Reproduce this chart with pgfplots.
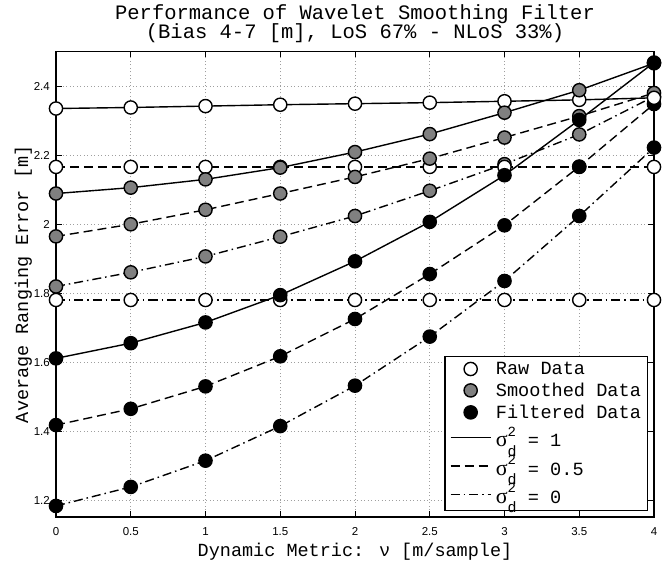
\documentclass[border=0pt]{standalone}
\usepackage{fontspec}
\setmainfont{Liberation Mono}
\setsansfont{Liberation Sans}
\setmonofont{Liberation Mono}
\newfontfamily\greekf{Liberation Serif}
\usepackage{pgfplots}
\usepackage{pgfplotstable}
\pgfplotsset{compat=1.18}

% r = raw, s = smoothed, f = filtered; 0 / h / 1 = sigma_d^2 of 0 / 0.5 / 1
\pgfplotstableread{
x    r0    s0    f0    rh    sh    fh    r1    s1    f1
0    1.781 1.820 1.185 2.166 1.965 1.419 2.335 2.089 1.612
0.5  1.781 1.861 1.240 2.166 2.000 1.466 2.338 2.106 1.656
1    1.781 1.907 1.316 2.166 2.042 1.531 2.342 2.130 1.716
1.5  1.781 1.964 1.416 2.166 2.089 1.618 2.346 2.164 1.795
2    1.781 2.024 1.533 2.166 2.137 1.726 2.349 2.209 1.893
2.5  1.781 2.097 1.675 2.166 2.190 1.856 2.352 2.261 2.007
3    1.781 2.174 1.836 2.166 2.251 1.997 2.356 2.323 2.142
3.5  1.781 2.260 2.024 2.166 2.313 2.167 2.360 2.388 2.302
4    1.781 2.370 2.222 2.166 2.380 2.348 2.366 2.466 2.468
}\perf

\pgfplotsset{
  ln1/.style={black, line width=1.4bp, solid},
  lnh/.style={black, line width=1.4bp, dash pattern=on 9bp off 5bp},
  ln0/.style={black, line width=1.4bp, dash pattern=on 9bp off 4bp on 1.5bp off 4bp},
  rawm/.style={mark=*, mark size=6.6bp, mark options={solid, fill=white, draw=black}},
  smom/.style={mark=*, mark size=6.6bp, mark options={solid, fill=gray, draw=black}},
  film/.style={mark=*, mark size=6.6bp, mark options={solid, fill=black, draw=black}},
}
% sigma_d^2 as in the reference legend
\newcommand{\sd}{{\greekf\fontsize{22bp}{22bp}\selectfont σ}%
  \rlap{\raisebox{10.5bp}{\fontsize{14bp}{14bp}\selectfont 2}}%
  \raisebox{-9.5bp}{\fontsize{15bp}{15bp}\selectfont d}}

\begin{document}
\begin{tikzpicture}
\begin{axis}[
    scale only axis,
    width=598bp, height=465.5bp,
    xmin=0, xmax=4,
    ymin=1.153, ymax=2.5,
    xtick={0,0.5,1,1.5,2,2.5,3,3.5,4},
    ytick={1.2,1.4,1.6,1.8,2,2.2,2.4},
    tick pos=both,
    tick align=inside,
    major tick length=6bp,
    tick style={black, line width=0.8bp},
    axis line style={black, line width=1.1bp},
    grid=major,
    grid style={gray!75, line width=0.8bp, dash pattern=on 1bp off 2.5bp},
    /pgf/number format/assume math mode=true,
    ticklabel style={font=\sffamily\fontsize{11.5bp}{13bp}\selectfont},
    xticklabel style={anchor=base, yshift=-18bp, inner sep=0pt},
    yticklabel style={anchor=east, xshift=-6bp, inner sep=0pt},
    xlabel={Dynamic Metric: ν [m/sample]},
    ylabel={Average Ranging Error [m]},
    label style={font=\fontsize{18.5bp}{22bp}\selectfont},
    xlabel style={at={(axis description cs:0.5,-0.0859)}, anchor=base},
    ylabel style={at={(axis description cs:-0.0468,0.5)}, anchor=base, rotate=0},
    clip=false,
    legend cell align=left,
    legend image code/.code={%
      \draw[mark repeat=2, mark phase=2, #1] plot coordinates {(0bp,0bp) (20bp,0bp) (40bp,0bp)};},
    legend style={
      at={(axis description cs:0.99,0.0129)}, anchor=south east,
      draw=black, line width=1.1bp, fill=white,
      font=\fontsize{18.6bp}{22bp}\selectfont,
      inner xsep=5bp, inner ysep=4bp,
      nodes={inner sep=1.5bp, text depth=0.15em},
      row sep=4bp, column sep=3bp,
    },
]
% sigma = 0
\addplot[ln0, rawm, forget plot] table[x=x, y=r0] {\perf};
\addplot[ln0, smom, forget plot] table[x=x, y=s0] {\perf};
\addplot[ln0, film, forget plot] table[x=x, y=f0] {\perf};
% sigma = 0.5
\addplot[lnh, rawm, forget plot] table[x=x, y=rh] {\perf};
\addplot[lnh, smom, forget plot] table[x=x, y=sh] {\perf};
\addplot[lnh, film, forget plot] table[x=x, y=fh] {\perf};
% sigma = 1
\addplot[ln1, rawm, forget plot] table[x=x, y=r1] {\perf};
\addplot[ln1, smom, forget plot] table[x=x, y=s1] {\perf};
\addplot[ln1, film, forget plot] table[x=x, y=f1] {\perf};

% legend
\addlegendimage{only marks, rawm, line width=1.4bp}
\addlegendentry{Raw Data}
\addlegendimage{only marks, smom, line width=1.4bp}
\addlegendentry{Smoothed Data}
\addlegendimage{only marks, film, line width=1.4bp}
\addlegendentry{Filtered Data}
\addlegendimage{ln1, no marks}
\addlegendentry{\sd{} = 1}
\addlegendimage{lnh, no marks}
\addlegendentry{\sd{} = 0.5}
\addlegendimage{ln0, no marks}
\addlegendentry{\sd{} = 0}

% title
\node[anchor=base, font=\fontsize{20.5bp}{24bp}\selectfont]
  at (axis description cs:0.5,1.069) {Performance of Wavelet Smoothing Filter};
\node[anchor=base, font=\fontsize{20.5bp}{24bp}\selectfont]
  at (axis description cs:0.5,1.028) {(Bias 4-7 [m], LoS 67\% - NLoS 33\%)};
\end{axis}
\pgfresetboundingbox
\useasboundingbox (-56bp,-47bp) rectangle (609bp,517bp);
\end{tikzpicture}
\end{document}
